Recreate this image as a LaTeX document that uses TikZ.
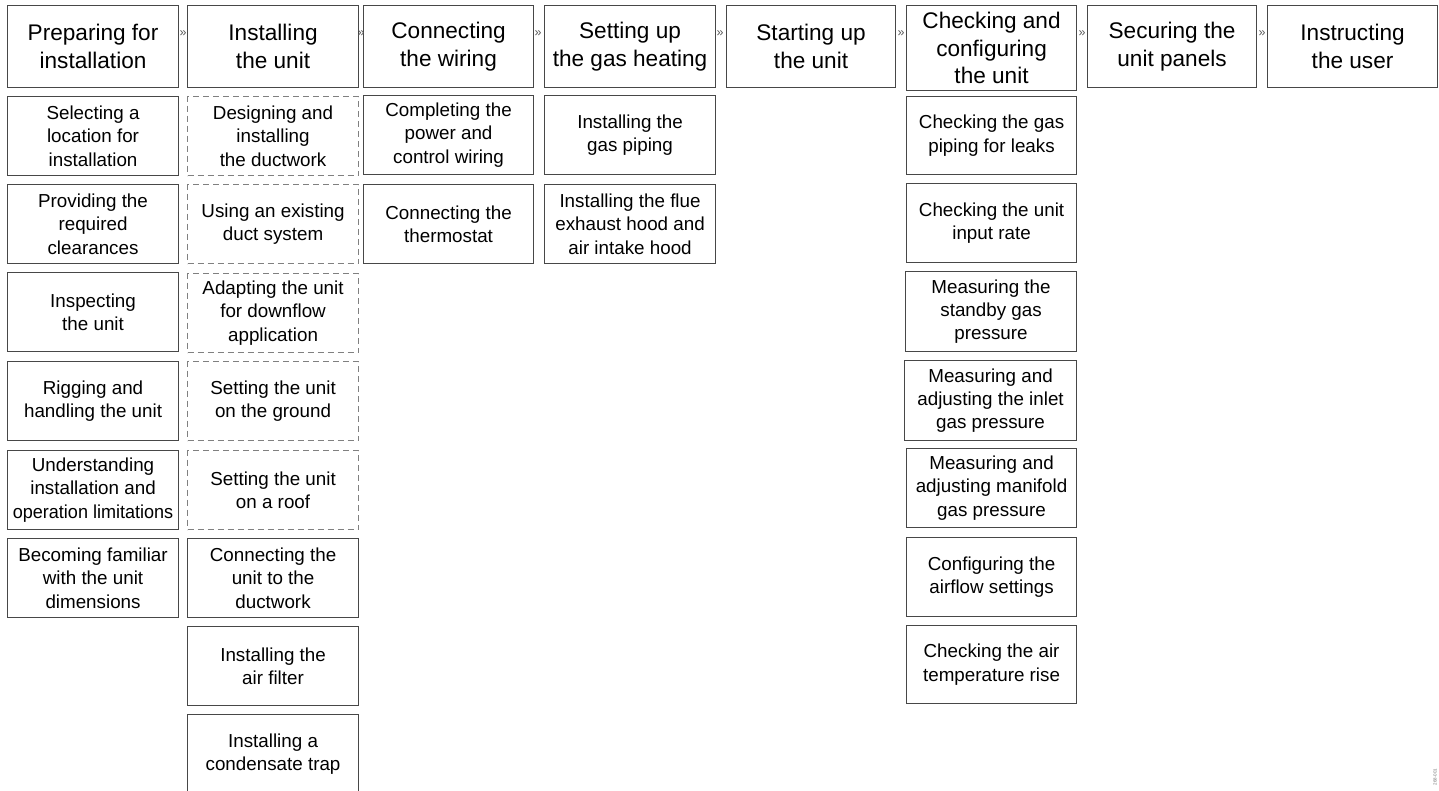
\documentclass[tikz,border=0pt]{standalone}
\usepackage{fontspec}
\setmainfont{Liberation Sans}
\begin{document}
\begin{tikzpicture}[x=1pt,y=-1pt,
  hd/.style={draw=black!72, line width=1.1pt, anchor=north west, align=center,
     inner sep=0pt, font=\fontsize{22.6}{27.5}\selectfont, minimum height=82pt},
  sb/.style={draw=black!72, line width=1.1pt, anchor=north west, align=center,
     inner sep=0pt, font=\fontsize{18.8}{23.4}\selectfont, minimum height=79pt},
  db/.style={sb, draw=black!50, dash pattern=on 6pt off 4pt},
  chev/.style={text=black!65, inner sep=0pt, font=\fontsize{12.5}{12.5}\selectfont},
  tag/.style={text=black!55, inner sep=0pt, font=\fontsize{4.5}{5}\selectfont, rotate=90}]
\useasboundingbox (0,0) rectangle (1439,791);
% headers
\node[hd, minimum width=171pt] (h1) at (7,5) {Preparing for\\installation};
\node[hd, minimum width=171pt] (h2) at (187,5) {Installing\\the unit};
\node[hd, minimum width=170pt] (h3) at (363,5) {Connecting\\the wiring};
\node[hd, minimum width=171pt] (h4) at (544,5) {Setting up\\the gas heating};
\node[hd, minimum width=169pt] (h5) at (726,5) {Starting up\\the unit};
\node[hd, minimum width=170pt, minimum height=85pt] (h6) at (906,5) {Checking and\\configuring\\the unit};
\node[hd, minimum width=169pt] (h7) at (1087,5) {Securing the\\unit panels};
\node[hd, minimum width=170pt] (h8) at (1267,5) {Instructing\\the user};
% chevrons
\node[chev] (c1) at (183,34) {»};
\node[chev] (c2) at (361,34) {»};
\node[chev] (c3) at (538,34) {»};
\node[chev] (c4) at (720,34) {»};
\node[chev] (c5) at (901,34) {»};
\node[chev] (c6) at (1082,34) {»};
\node[chev] (c7) at (1262,34) {»};
% column 1
\node[sb, minimum width=171pt] (a1) at (7,96) {Selecting a\\location for\\installation};
\node[sb, minimum width=171pt] (a2) at (7,184) {Providing the\\required\\clearances};
\node[sb, minimum width=171pt] (a3) at (7,272) {Inspecting\\the unit};
\node[sb, minimum width=171pt] (a4) at (7,361) {Rigging and\\handling the unit};
\node[sb, minimum width=171pt] (a5) at (7,450) {Understanding\\installation and\\\scalebox{0.96}[1]{operation limitations}};
\node[sb, minimum width=171pt] (a6) at (7,538) {Becoming familiar\\with the unit\\dimensions};
% column 2
\node[db, minimum width=171pt] (b1) at (187,96) {Designing and\\installing\\the ductwork};
\node[db, minimum width=171pt] (b2) at (187,184) {Using an existing\\duct system};
\node[db, minimum width=171pt] (b3) at (187,273) {Adapting the unit\\for downflow\\application};
\node[db, minimum width=171pt] (b4) at (187,361) {Setting the unit\\on the ground};
\node[db, minimum width=171pt] (b5) at (187,450) {Setting the unit\\on a roof};
\node[sb, minimum width=171pt] (b6) at (187,538) {Connecting the\\unit to the\\ductwork};
\node[sb, minimum width=171pt] (b7) at (187,626) {Installing the\\air filter};
\node[sb, minimum width=171pt] (b8) at (187,714) {Installing a\\condensate trap};
% column 3
\node[sb, minimum width=170pt] (d1) at (363,95) {Completing the\\power and\\control wiring};
\node[sb, minimum width=170pt] (d2) at (363,184) {Connecting the\\thermostat};
% column 4
\node[sb, minimum width=171pt] (e1) at (544,95) {Installing the\\gas piping};
\node[sb, minimum width=171pt] (e2) at (544,184) {Installing the flue\\exhaust hood and\\air intake hood};
% column 6
\node[sb, minimum width=170pt, minimum height=78pt] (f1) at (906,96) {Checking the gas\\piping for leaks};
\node[sb, minimum width=170pt] (f2) at (906,183) {Checking the unit\\input rate};
\node[sb, minimum width=171pt, minimum height=80pt] (f3) at (905,271) {Measuring the\\standby gas\\pressure};
\node[sb, minimum width=172pt, minimum height=80pt] (f4) at (904,360) {Measuring and\\adjusting the inlet\\gas pressure};
\node[sb, minimum width=170pt] (f5) at (906,448) {Measuring and\\adjusting manifold\\gas pressure};
\node[sb, minimum width=170pt] (f6) at (906,537) {Configuring the\\airflow settings};
\node[sb, minimum width=170pt, minimum height=78pt] (f7) at (906,625) {Checking the air\\temperature rise};
% figure tag
\node[tag] (t) at (1435,777) {268-001};
\end{tikzpicture}
\end{document}
